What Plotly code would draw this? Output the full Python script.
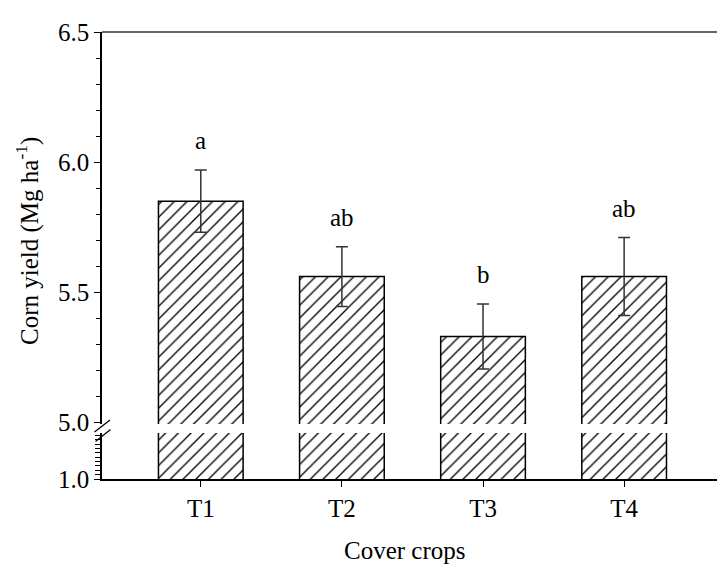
import plotly.graph_objects as go

# ---- data ----
categories = ["T1", "T2", "T3", "T4"]
yield_mean = [5.85, 5.56, 5.33, 5.56]
yield_err = [0.12, 0.115, 0.125, 0.15]
letters = ["a", "ab", "b", "ab"]
upper_ticks = [5.0, 5.5, 6.0, 6.5]
lower_ticks = [1.0]

# ---- layout geometry (pixels) ----
W, H = 717, 565
L, R, T, B = 102, 0, 32, 86
PW, PH = W - L - R, H - T - B


def px(x):
    return (x - L) / PW


def py(y):
    return (H - B - y) / PH


FONT = "Liberation Serif, Times New Roman, serif"
FS = 25
pattern = dict(shape="/", fgcolor="black", bgcolor="white", fgopacity=1,
               size=9, solidity=0.15)

fig = go.Figure()

# lower segment
fig.add_trace(go.Bar(
    x=categories, y=yield_mean, xaxis="x", yaxis="y",
    width=0.6, marker=dict(color="white", pattern=pattern, line=dict(color="black", width=1.5)),
    showlegend=False, hoverinfo="skip",
))
# upper segment
fig.add_trace(go.Bar(
    x=categories, y=yield_mean, xaxis="x2", yaxis="y2",
    width=0.6, marker=dict(color="white", pattern=pattern, line=dict(color="black", width=1.5)),
    error_y=dict(type="data", array=yield_err, color="#333", thickness=1.5, width=6),
    showlegend=False,
))

annotations = []
for c, m, e, t in zip(categories, yield_mean, yield_err, letters):
    annotations.append(dict(
        x=c, y=m + e, xref="x2", yref="y2", text=t, showarrow=False,
        yanchor="bottom", yshift=14, font=dict(family=FONT, size=FS, color="black"),
    ))

annotations.append(dict(
    x=px(28), y=py(241), xref="paper", yref="paper", textangle=-90,
    text="Corn yield (Mg ha<sup>-1</sup>)", showarrow=False,
    xanchor="center", yanchor="middle", font=dict(family=FONT, size=FS, color="black"),
))
annotations.append(dict(
    x=px(405), y=py(550), xref="paper", yref="paper",
    text="Cover crops", showarrow=False,
    xanchor="center", yanchor="middle", font=dict(family=FONT, size=FS, color="black"),
))

shapes = [
    # top frame line
    dict(type="line", xref="paper", yref="paper", x0=0, x1=1, y0=1, y1=1,
         line=dict(color="#333", width=1.5)),
    # axis break marks
    dict(type="line", xref="paper", yref="paper", x0=px(94.5), y0=py(432), x1=px(110), y1=py(420),
         line=dict(color="black", width=1.3)),
    dict(type="line", xref="paper", yref="paper", x0=px(95.5), y0=py(441.5), x1=px(110.5), y1=py(429.5),
         line=dict(color="black", width=1.3)),
]

axis_font = dict(family=FONT, size=FS, color="black")

fig.update_layout(
    width=W, height=H,
    margin=dict(l=L, r=R, t=T, b=B),
    paper_bgcolor="white", plot_bgcolor="white",
    xaxis=dict(
        domain=[0, 1], anchor="y", range=[-0.7, 3.658],
        showline=True, linecolor="black", linewidth=1.5,
        ticks="outside", ticklen=6, tickwidth=1.2, tickcolor="black",
        tickfont=axis_font, showgrid=False, zeroline=False,
    ),
    xaxis2=dict(
        domain=[0, 1], anchor="y2", matches="x", visible=False,
    ),
    yaxis=dict(
        domain=[0, py(433)], anchor="x", range=[1.0, 1.53],
        tickvals=lower_ticks, tickformat=".1f",
        showline=True, linecolor="black", linewidth=1.5,
        ticks="outside", ticklen=6, tickwidth=1.2, tickcolor="black",
        minor=dict(dtick=0.05, ticks="outside", ticklen=5, tickcolor="black", tickwidth=1),
        tickfont=axis_font, showgrid=False, zeroline=False,
    ),
    yaxis2=dict(
        domain=[py(424), 1], anchor="x2", range=[4.9935, 6.5],
        tickvals=upper_ticks, tickformat=".1f",
        showline=True, linecolor="black", linewidth=1.5,
        ticks="outside", ticklen=6, tickwidth=1.2, tickcolor="black",
        minor=dict(dtick=0.1, ticks="outside", ticklen=4, tickcolor="black", tickwidth=1),
        tickfont=axis_font, showgrid=False, zeroline=False,
    ),
    annotations=annotations,
    shapes=shapes,
)

fig.write_html(
    "out.html",
    config={"displayModeBar": False},
    post_script="document.body.style.margin='0px';document.body.style.overflow='hidden';",
)
